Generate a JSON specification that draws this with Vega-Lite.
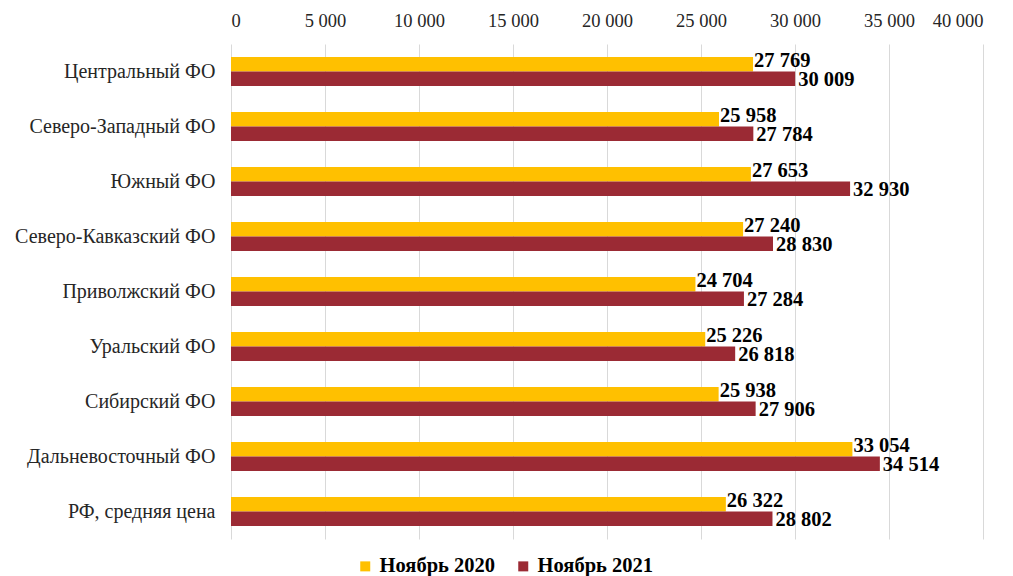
{
  "$schema": "https://vega.github.io/schema/vega-lite/v6.json",
  "width": 752,
  "height": 495,
  "autosize": {"type": "none"},
  "padding": {"left": 231, "top": 44, "right": 30, "bottom": 37},
  "background": "white",
  "config": {
    "locale": {"number": {"decimal": ",", "thousands": " ", "grouping": [3], "currency": ["", ""]}},
    "font": "Liberation Serif",
    "view": {"stroke": null}
  },
  "data": {
    "values": [
      {"region": "Центральный ФО", "series": "Ноябрь 2020", "value": 27769},
      {"region": "Центральный ФО", "series": "Ноябрь 2021", "value": 30009},
      {"region": "Северо-Западный ФО", "series": "Ноябрь 2020", "value": 25958},
      {"region": "Северо-Западный ФО", "series": "Ноябрь 2021", "value": 27784},
      {"region": "Южный ФО", "series": "Ноябрь 2020", "value": 27653},
      {"region": "Южный ФО", "series": "Ноябрь 2021", "value": 32930},
      {"region": "Северо-Кавказский ФО", "series": "Ноябрь 2020", "value": 27240},
      {"region": "Северо-Кавказский ФО", "series": "Ноябрь 2021", "value": 28830},
      {"region": "Приволжский ФО", "series": "Ноябрь 2020", "value": 24704},
      {"region": "Приволжский ФО", "series": "Ноябрь 2021", "value": 27284},
      {"region": "Уральский ФО", "series": "Ноябрь 2020", "value": 25226},
      {"region": "Уральский ФО", "series": "Ноябрь 2021", "value": 26818},
      {"region": "Сибирский ФО", "series": "Ноябрь 2020", "value": 25938},
      {"region": "Сибирский ФО", "series": "Ноябрь 2021", "value": 27906},
      {"region": "Дальневосточный ФО", "series": "Ноябрь 2020", "value": 33054},
      {"region": "Дальневосточный ФО", "series": "Ноябрь 2021", "value": 34514},
      {"region": "РФ, средняя цена", "series": "Ноябрь 2020", "value": 26322},
      {"region": "РФ, средняя цена", "series": "Ноябрь 2021", "value": 28802}
    ]
  },
  "encoding": {
    "y": {
      "field": "region",
      "type": "nominal",
      "sort": null,
      "scale": {"paddingInner": 0.47, "paddingOuter": 0.235},
      "axis": {
        "title": null,
        "ticks": false,
        "domain": false,
        "labelFontSize": 20,
        "labelColor": "#262626",
        "labelPadding": 16,
        "labelLimit": 400,
        "labelFont": "Liberation Serif"
      }
    },
    "yOffset": {"field": "series", "type": "nominal", "sort": ["Ноябрь 2020", "Ноябрь 2021"]},
    "x": {
      "field": "value",
      "type": "quantitative",
      "scale": {"domain": [0, 40000], "nice": false},
      "axis": {
        "orient": "top",
        "title": null,
        "values": [0, 5000, 10000, 15000, 20000, 25000, 30000, 35000, 40000],
        "format": ",d",
        "ticks": false,
        "domain": false,
        "grid": true,
        "gridColor": "#D9D9D9",
        "gridWidth": 1,
        "labelFontSize": 18.5,
        "labelColor": "#262626",
        "labelPadding": 14,
        "labelFont": "Liberation Serif"
      }
    }
  },
  "layer": [
    {
      "mark": {"type": "bar"},
      "encoding": {
        "color": {
          "field": "series",
          "type": "nominal",
          "sort": ["Ноябрь 2020", "Ноябрь 2021"],
          "scale": {"domain": ["Ноябрь 2020", "Ноябрь 2021"], "range": ["#FFC000", "#9B2A34"]},
          "legend": {
            "orient": "none",
            "direction": "horizontal",
            "legendX": 124,
            "legendY": 512,
            "title": null,
            "symbolType": "square",
            "symbolSize": 100,
            "symbolStrokeWidth": 0,
            "labelFontSize": 20.5,
            "labelFontWeight": "bold",
            "labelColor": "#000000",
            "labelFont": "Liberation Serif",
            "columnPadding": 17,
            "labelOffset": 4
          }
        }
      }
    },
    {
      "transform": [{"filter": "datum.series === 'Ноябрь 2020'"}],
      "mark": {"type": "text", "align": "left", "baseline": "middle", "dx": 1, "dy": -3, "fontSize": 20.5, "fontWeight": "bold", "font": "Liberation Serif", "color": "#000000"},
      "encoding": {
        "text": {"field": "value", "type": "quantitative", "format": ",d"}
      }
    },
    {
      "transform": [{"filter": "datum.series === 'Ноябрь 2021'"}],
      "mark": {"type": "text", "align": "left", "baseline": "middle", "dx": 3, "dy": 1, "fontSize": 20.5, "fontWeight": "bold", "font": "Liberation Serif", "color": "#000000"},
      "encoding": {
        "text": {"field": "value", "type": "quantitative", "format": ",d"}
      }
    }
  ]
}
